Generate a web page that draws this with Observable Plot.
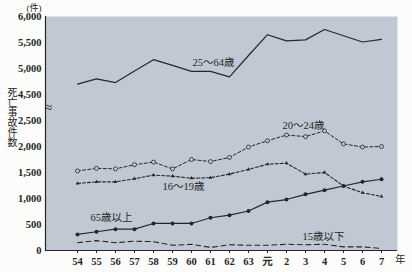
<!DOCTYPE html>
<html><head><meta charset="utf-8">
<script src="https://cdn.jsdelivr.net/npm/d3@7"></script>
<script src="https://cdn.jsdelivr.net/npm/@observablehq/plot@0.6"></script>
<style>
body{margin:0;background:#fcfcfb}
#chart svg{background:#fcfcfb}
#chart svg text{font-family:"Liberation Serif","DejaVu Serif","Noto Sans CJK JP",serif}
</style>
</head><body><div id="chart"></div>
<script>
const years = ["54","55","56","57","58","59","60","61","62","63","元","2","3","4","5","6","7"];
const age25to64 = [4700,4800,4730,4950,5170,5060,4945,4945,4840,5250,5650,5530,5550,5750,5630,5510,5560];
const age20to24 = [1530,1580,1570,1650,1700,1570,1750,1710,1790,1990,2110,2220,2190,2300,2050,1990,2000];
const age16to19 = [1290,1320,1320,1380,1450,1430,1390,1400,1470,1560,1660,1680,1470,1500,1240,1110,1040];
const age65plus = [310,360,410,410,520,520,520,630,680,760,930,980,1080,1160,1240,1320,1370];
const age15under = [150,190,150,180,170,100,120,60,110,100,100,120,110,120,70,70,40];
const yTicks = [0,500,1000,1500,2000,2500,4500,5000,5500,6000];
const seriesLabels = ["25～64歳","20～24歳","16～19歳","65歳以上","15歳以下"];

const rows = vals => years.map((year, i) => ({year, value: vals[i]}));
const ink = "#262626";
const bg = "#c0c9d3";
const serif = "Liberation Serif, DejaVu Serif, Noto Sans CJK JP, serif";
const fmt = d3.format(",");

const chart = Plot.plot({
  width: 412,
  height: 272,
  marginLeft: 45,
  marginRight: 15,
  marginTop: 16,
  marginBottom: 22,
  style: {fontFamily: serif, fontSize: "10.5px", color: ink, background: "#fcfcfb"},
  x: {type: "point", domain: years, range: [66, 391.7], axis: null},
  y: {domain: [0, 4500], transform: v => v >= 3500 ? v - 1500 : v, axis: null},
  marks: [
    Plot.frame({fill: bg}),
    Plot.ruleY([0], {stroke: ink, strokeWidth: 1.2}),
    Plot.frame({anchor: "left", stroke: ink, strokeWidth: 1.2}),
    Plot.text(["≈"], {y: () => 2750, frameAnchor: "left", dx: -1, fontSize: 14, fontFamily: serif, fill: ink}),
    Plot.axisX({label: null, tickSize: 3, tickPadding: 4, fontWeight: "bold", fontSize: 10.5, fontFamily: serif, stroke: ink, fill: ink}),
    Plot.text(yTicks, {y: d => d, text: d => fmt(d), frameAnchor: "left", textAnchor: "end", dx: -4, dy: 0.5, fontWeight: "bold", fontSize: 10.5, fontFamily: serif, fill: ink}),
    Plot.line(rows(age25to64), {x: "year", y: "value", stroke: ink, strokeWidth: 1.2}),
    Plot.line(rows(age20to24), {x: "year", y: "value", stroke: ink, strokeWidth: 1, strokeDasharray: "3,2.2"}),
    Plot.dot(rows(age20to24), {x: "year", y: "value", r: 2, fill: bg, stroke: ink, strokeWidth: 0.8}),
    Plot.line(rows(age16to19), {x: "year", y: "value", stroke: ink, strokeWidth: 1.1, strokeDasharray: "3,2"}),
    Plot.dot(rows(age16to19), {x: "year", y: "value", r: 1.4, symbol: "triangle", fill: ink}),
    Plot.line(rows(age65plus), {x: "year", y: "value", stroke: ink, strokeWidth: 1.2}),
    Plot.dot(rows(age65plus), {x: "year", y: "value", r: 2, fill: ink}),
    Plot.line(rows(age15under), {x: "year", y: "value", stroke: ink, strokeWidth: 1.1, strokeDasharray: "5,3.5"}),
    Plot.text([seriesLabels[0]], {x: () => "61", y: () => 5110, dx: 3, fontSize: 10.5, fontFamily: serif, fill: ink}),
    Plot.text([seriesLabels[1]], {x: () => "3", y: () => 2400, dx: -2, fontSize: 10.5, fontFamily: serif, fill: ink}),
    Plot.text([seriesLabels[2]], {x: () => "59", y: () => 1235, dx: 11, fontSize: 10.5, fontFamily: serif, fill: ink}),
    Plot.text([seriesLabels[3]], {x: () => "56", y: () => 625, dx: -4, fontSize: 10.5, fontFamily: serif, fill: ink}),
    Plot.text([seriesLabels[4]], {x: () => "4", y: () => 270, dx: -1, fontSize: 10.5, fontFamily: serif, fill: ink}),
    Plot.text(["(件)"], {frameAnchor: "top-left", dx: -19, dy: -12, fontSize: 9, fontFamily: serif, fill: ink}),
    Plot.text(["年"], {frameAnchor: "bottom-right", dx: 8, dy: 12, fontSize: 10.5, fontFamily: serif, fill: ink}),
    Plot.text(["死\n亡\n事\n故\n件\n数"], {frameAnchor: "top-left", dx: -38, dy: 72, lineAnchor: "top", lineHeight: 1.0, fontSize: 10, fontFamily: serif, fill: ink})
  ]
});
document.getElementById("chart").appendChild(chart);
</script>
</body></html>
